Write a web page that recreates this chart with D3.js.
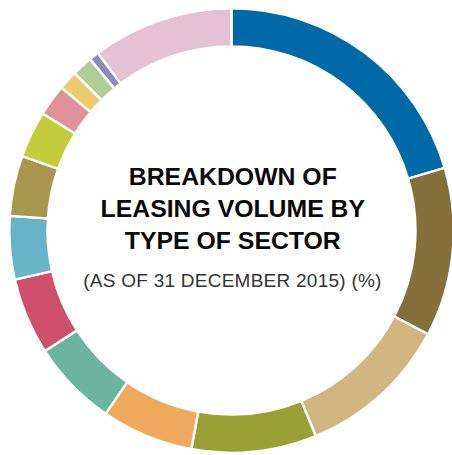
<!DOCTYPE html>
<html>
<head>
<meta charset="utf-8">
<script src="https://cdn.jsdelivr.net/npm/d3@7"></script>
<style>
  html, body { margin: 0; padding: 0; background: #fff; }
  svg { display: block; }
</style>
</head>
<body>
<svg id="chart" width="452" height="455"></svg>
<script>
const categories = ["Sector 1","Sector 2","Sector 3","Sector 4","Sector 5","Sector 6","Sector 7","Sector 8","Sector 9","Sector 10","Sector 11","Sector 12","Sector 13","Sector 14","Sector 15"];
const values = [20.5, 12.3, 11.1, 9.1, 6.7, 6.3, 5.6, 4.6, 4.4, 3.4, 2.3, 1.4, 1.5, 0.7, 10.3];
const colors = ["#006aa8","#85703b","#d2b682","#9aa134","#eea95d","#6cb4a0","#cf506d","#66b4c8","#a9974f","#c4cc3c","#df9299","#ebcb6b","#b1cc96","#8f89bb","#e4c2d4"];
const titleLines = ["BREAKDOWN OF","LEASING VOLUME BY","TYPE OF SECTOR"];
const subtitle = "(AS OF 31 DECEMBER 2015) (%)";

const svg = d3.select("#chart");
const cx = 231.5, cy = 230.5, outerR = 222.2, innerR = 184;

const data = categories.map((c, i) => ({ name: c, value: values[i] }));
const pie = d3.pie().value(d => d.value).sort(null);
const arc = d3.arc().innerRadius(innerR).outerRadius(outerR);
const color = d3.scaleOrdinal().domain(categories).range(colors);

const g = svg.append("g").attr("transform", `translate(${cx},${cy})`);
g.selectAll("path")
  .data(pie(data))
  .join("path")
  .attr("d", arc)
  .attr("fill", d => color(d.data.name))
  .attr("stroke", "#fff")
  .attr("stroke-width", 2.4)
  .attr("stroke-linejoin", "miter");

const tg = svg.append("g");
tg.selectAll("text.title")
  .data(titleLines)
  .join("text")
  .attr("class", "title")
  .attr("x", 232.8)
  .attr("y", (d, i) => 185 + i * 32)
  .attr("text-anchor", "middle")
  .attr("font-family", "'Liberation Sans', Arial, Helvetica, sans-serif")
  .attr("font-weight", "bold")
  .attr("font-size", "24.8px")
  .attr("fill", "#0a0a0a")
  .text(d => d);

tg.append("text")
  .attr("x", 232.5)
  .attr("y", 287)
  .attr("text-anchor", "middle")
  .attr("font-family", "'Liberation Sans', Arial, Helvetica, sans-serif")
  .attr("font-size", "19px")
  .attr("letter-spacing", "0.25px")
  .attr("fill", "#333")
  .text(subtitle);
</script>
</body>
</html>
